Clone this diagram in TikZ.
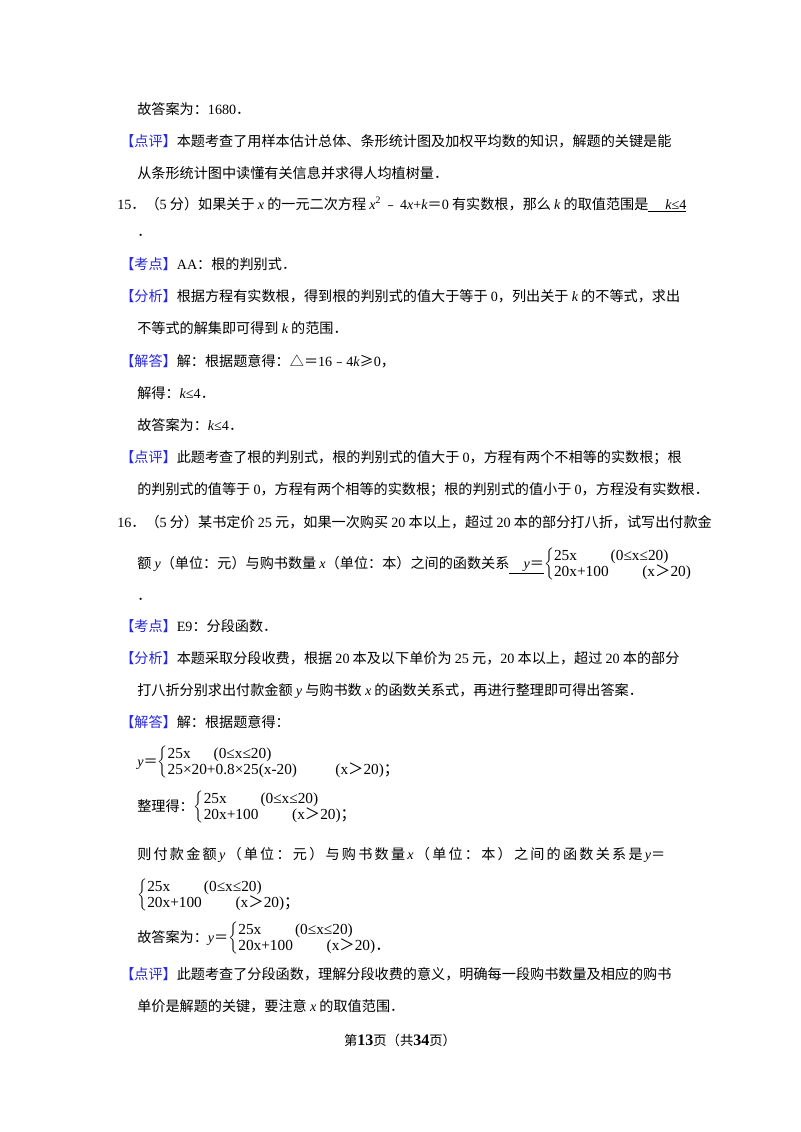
\documentclass[tikz,border=0pt]{standalone}
\usepackage{fontspec}
\setmainfont{Noto Sans CJK SC}
\newfontfamily\cj{Noto Sans CJK SC}
\newfontfamily\lat{Liberation Serif}
\newcommand\LL[1]{{\lat #1}}
\newcommand\vx[1]{{\lat\itshape #1}}
\definecolor{tagblue}{RGB}{40,40,220}
\newcommand\tg[1]{{\color{tagblue}【#1】}}
\newcommand\cs[2]{$\left\{\begin{tabular}{@{}l@{}}\fontsize{11.5}{15}\selectfont\lat #1\\[-2pt]\fontsize{11.5}{15}\selectfont\lat #2\end{tabular}\right.$}
\newcommand\gt{{\cj ＞}}
\newcommand\rowA{25x\hspace{2.2em}(0≤x≤20)}
\newcommand\rowB{20x+100\hspace{2.2em}(x\gt 20)}
\begin{document}
\begin{tikzpicture}[x=0.75pt,y=-0.75pt,
  t/.style={anchor=base west,inner sep=0,font=\fontsize{10.6}{14}\selectfont}]
\useasboundingbox (0,0) rectangle (800,1132);
\fill[white] (0,0) rectangle (800,1132);
\node[t] (l1) at (137,114) {故答案为：\LL{1680}．};
\node[t] (l2) at (120,146) {\tg{点评}本题考查了用样本估计总体、条形统计图及加权平均数的知识，解题的关键是能};
\node[t] (l3) at (137,178) {从条形统计图中读懂有关信息并求得人均植树量．};
\node[t] (l4) at (117,209) {\LL{15}．（\LL{5} 分）如果关于 \vx{x} 的一元二次方程 \vx{x}\textsuperscript{\lat 2}\,﹣\,\LL{4}\vx{x}\LL{+}\vx{k}＝\LL{0} 有实数根，那么 \vx{k} 的取值范围是\underline{\hspace{1.2em}\vx{k}\LL{≤4}}};
\node[t] (l5) at (137,236) {．};
\node[t] (l6) at (120,269) {\tg{考点}\LL{AA}：根的判别式．};
\node[t] (l7) at (120,301) {\tg{分析}根据方程有实数根，得到根的判别式的值大于等于 \LL{0}，列出关于 \vx{k} 的不等式，求出};
\node[t] (l8) at (137,333) {不等式的解集即可得到 \vx{k} 的范围．};
\node[t] (l9) at (120,366) {\tg{解答}解：根据题意得：△＝\LL{16}﹣\LL{4}\vx{k}≥\LL{0}，};
\node[t] (l10) at (137,398) {解得：\vx{k}\LL{≤4}．};
\node[t] (l11) at (137,430) {故答案为：\vx{k}\LL{≤4}．};
\node[t] (l12) at (120,462) {\tg{点评}此题考查了根的判别式，根的判别式的值大于 \LL{0}，方程有两个不相等的实数根；根};
\node[t] (l13) at (137,494) {的判别式的值等于 \LL{0}，方程有两个相等的实数根；根的判别式的值小于 \LL{0}，方程没有实数根．};
\node[t] (l14) at (117,527) {\LL{16}．（\LL{5} 分）某书定价 \LL{25} 元，如果一次购买 \LL{20} 本以上，超过 \LL{20} 本的部分打八折，试写出付款金};
\node[t] (l15) at (137,568) {额 \vx{y}（单位：元）与购书数量 \vx{x}（单位：本）之间的函数关系\underline{\hspace{1em}\vx{y}＝}\cs{\rowA}{\rowB}};
\node[t] (l16) at (137,600) {．};
\node[t] (l17) at (120,631) {\tg{考点}\LL{E9}：分段函数．};
\node[t] (l18) at (120,663) {\tg{分析}本题采取分段收费，根据 \LL{20} 本及以下单价为 \LL{25} 元，\LL{20} 本以上，超过 \LL{20} 本的部分};
\node[t] (l19) at (137,695) {打八折分别求出付款金额 \vx{y} 与购书数 \vx{x} 的函数关系式，再进行整理即可得出答案．};
\node[t] (l20) at (120,727) {\tg{解答}解：根据题意得：};
\node[t] (l21) at (137,766) {\vx{y}＝\cs{25x\hspace{1.5em}(0≤x≤20)}{25×20+0.8×25(x-20)\hspace{2.5em}(x\gt 20){\cj ；}}};
\node[t] (l22) at (137,811) {整理得：\cs{\rowA}{\rowB{\cj ；}}};
\node[t] (l23) at (137,859) {\makebox[528\dimexpr0.75pt\relax][s]{则\hfill 付\hfill 款\hfill 金\hfill 额\hfill \vx{y}\hfill （\hfill 单\hfill 位\hfill ：\hfill 元\hfill ）\hfill 与\hfill 购\hfill 书\hfill 数\hfill 量\hfill \vx{x}\hfill （\hfill 单\hfill 位\hfill ：\hfill 本\hfill ）\hfill 之\hfill 间\hfill 的\hfill 函\hfill 数\hfill 关\hfill 系\hfill 是\hfill \vx{y}＝}};
\node[t] (l24) at (137,899) {\cs{\rowA}{\rowB{\cj ；}}};
\node[t] (l25) at (137,942) {故答案为：\vx{y}＝\cs{\rowA}{\rowB{\cj ．}}};
\node[t] (l26) at (120,979) {\tg{点评}此题考查了分段函数，理解分段收费的意义，明确每一段购书数量及相应的购书};
\node[t] (l27) at (137,1011) {单价是解题的关键，要注意 \vx{x} 的取值范围．};
\node[anchor=base,inner sep=0,font=\fontsize{10}{12}\selectfont] (ft) at (400,1045) {第{\lat\bfseries\fontsize{12}{12}\selectfont 13}页（共{\lat\bfseries\fontsize{12}{12}\selectfont 34}页）};
\end{tikzpicture}
\end{document}
